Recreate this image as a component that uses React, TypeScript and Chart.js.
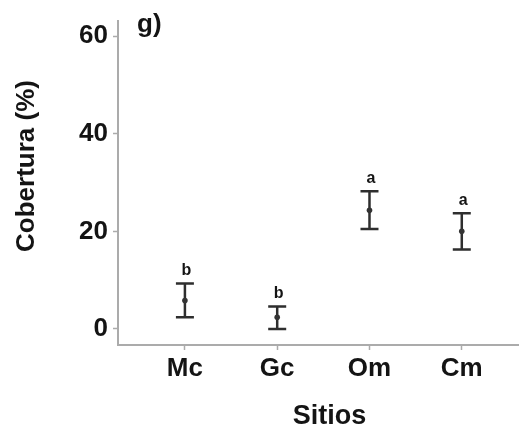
import React, { useEffect, useRef } from "react";
import { Chart, registerables } from "chart.js";

Chart.register(...registerables);

// Cover per site: mean with lower/upper interval limits, plus group letters
const sites = ["Mc", "Gc", "Om", "Cm"];
const meanCover = [5.8, 2.4, 24.3, 20.0];
const lowerCover = [2.4, 0.0, 20.5, 16.3];
const upperCover = [9.3, 4.6, 28.2, 23.7];
const groupLetters = ["b", "b", "a", "a"];
const yTickValues = [0, 20, 40, 60];
const panelLabel = "g)";
const xTitle = "Sitios";
const yTitle = "Cobertura (%)";

const FONT = "'Liberation Sans', Arial, Helvetica, sans-serif";
const AXIS_GRAY = "#ababab";
const INK = "#141414";

// Vertical interval bars with caps, and the group letter above each bar
const errorBarPlugin = {
  id: "errorBars",
  beforeDatasetsDraw(chart: any) {
    const { ctx, scales } = chart;
    const x = scales.x;
    const y = scales.y;
    ctx.save();
    ctx.strokeStyle = "#2e2e2e";
    ctx.lineWidth = 2.5;
    ctx.lineCap = "butt";
    sites.forEach((_, i) => {
      const px = x.getPixelForValue(i + 1);
      const top = y.getPixelForValue(upperCover[i]);
      const bot = y.getPixelForValue(lowerCover[i]);
      ctx.beginPath();
      ctx.moveTo(px, top);
      ctx.lineTo(px, bot);
      ctx.moveTo(px - 9, top);
      ctx.lineTo(px + 9, top);
      ctx.moveTo(px - 9, bot);
      ctx.lineTo(px + 9, bot);
      ctx.stroke();
    });
    ctx.fillStyle = INK;
    ctx.font = `bold 16px ${FONT}`;
    ctx.textAlign = "center";
    ctx.textBaseline = "alphabetic";
    sites.forEach((_, i) => {
      const px = x.getPixelForValue(i + 1);
      const top = y.getPixelForValue(upperCover[i]);
      ctx.fillText(groupLetters[i], px + 1.5, top - 8.5);
    });
    ctx.restore();
  },
};

// Axis titles and panel tag
const titlesPlugin = {
  id: "panelTitles",
  afterDraw(chart: any) {
    const { ctx, chartArea } = chart;
    ctx.save();
    ctx.fillStyle = INK;
    ctx.font = `bold 26px ${FONT}`;
    ctx.textBaseline = "alphabetic";
    ctx.textAlign = "left";
    ctx.fillText(panelLabel, chartArea.left + 19, 32);

    ctx.font = `bold 27px ${FONT}`;
    ctx.textAlign = "center";
    ctx.fillText(xTitle, (chartArea.left + chartArea.right) / 2 + 11, 424);

    ctx.font = `bold 26px ${FONT}`;
    ctx.translate(27, 166);
    ctx.rotate(-Math.PI / 2);
    ctx.textBaseline = "middle";
    ctx.fillText(yTitle, 0, 0);
    ctx.restore();
  },
};

export default function App() {
  const canvasRef = useRef<HTMLCanvasElement | null>(null);

  useEffect(() => {
    if (!canvasRef.current) return;
    const chart = new Chart(canvasRef.current, {
      type: "scatter",
      data: {
        datasets: [
          {
            data: meanCover.map((v, i) => ({ x: i + 1, y: v })),
            pointRadius: 2.8,
            pointBackgroundColor: "#333333",
            pointBorderColor: "#333333",
            pointBorderWidth: 0,
            showLine: false,
          },
        ],
      },
      options: {
        responsive: false,
        animation: false,
        layout: { autoPadding: false, padding: { top: 18, right: 0, left: 0, bottom: 0 } },
        plugins: {
          legend: { display: false },
          tooltip: { enabled: false },
        },
        scales: {
          x: {
            type: "linear",
            min: 0.275,
            max: 4.62,
            afterBuildTicks: (s: any) => {
              s.ticks = sites.map((_, i) => ({ value: i + 1 }));
            },
            afterFit: (s: any) => {
              s.height = 88;
            },
            ticks: {
              autoSkip: false,
              maxRotation: 0,
              padding: 3,
              color: INK,
              font: { family: FONT, size: 26, weight: "bold" },
              callback: (v: any) => sites[Math.round(Number(v)) - 1] ?? "",
            },
            grid: {
              display: true,
              drawOnChartArea: false,
              drawTicks: true,
              tickLength: 5,
              tickColor: AXIS_GRAY,
              tickWidth: 1.5,
            },
            border: { display: true, color: AXIS_GRAY, width: 2 },
          },
          y: {
            type: "linear",
            min: -3.3,
            max: 63.2,
            afterBuildTicks: (s: any) => {
              s.ticks = yTickValues.map((v) => ({ value: v }));
            },
            afterFit: (s: any) => {
              s.width = 118;
            },
            ticks: {
              padding: 5,
              color: INK,
              font: { family: FONT, size: 26, weight: "bold" },
            },
            grid: {
              display: true,
              drawOnChartArea: false,
              drawTicks: true,
              tickLength: 5,
              tickColor: AXIS_GRAY,
              tickWidth: 1.5,
            },
            border: { display: true, color: AXIS_GRAY, width: 2 },
          },
        },
      } as any,
      plugins: [errorBarPlugin, titlesPlugin],
    });
    return () => chart.destroy();
  }, []);

  return (
    <div style={{ position: "fixed", left: 0, top: 0, width: 519, height: 433, background: "#ffffff" }}>
      <canvas ref={canvasRef} width={519} height={433} />
    </div>
  );
}
